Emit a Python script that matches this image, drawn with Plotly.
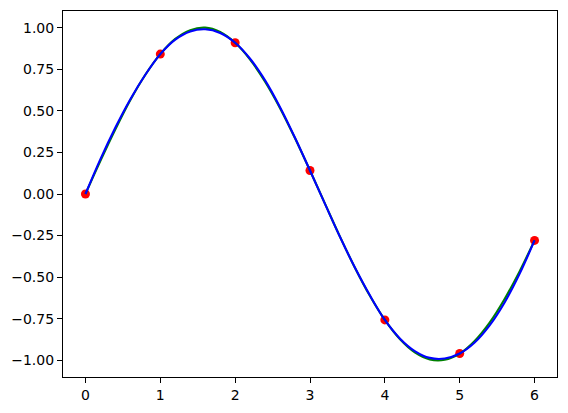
import plotly.graph_objects as go

# sample points
x_pts = [0, 1, 2, 3, 4, 5, 6]
y_pts = [0.0, 0.841, 0.909, 0.141, -0.757, -0.959, -0.279]

# dense curves
x_curve = [0.0, 0.2, 0.4, 0.6, 0.8, 1.0, 1.2, 1.4, 1.6, 1.8, 2.0, 2.2, 2.4, 2.6, 2.8, 3.0,
           3.2, 3.4, 3.6, 3.8, 4.0, 4.2, 4.4, 4.6, 4.8, 5.0, 5.2, 5.4, 5.6, 5.8, 6.0]
y_true = [0.0, 0.199, 0.389, 0.565, 0.717, 0.841, 0.932, 0.985, 1.000, 0.974, 0.909, 0.808,
          0.675, 0.516, 0.335, 0.141, -0.058, -0.256, -0.443, -0.612, -0.757, -0.872, -0.952,
          -0.994, -0.996, -0.959, -0.883, -0.773, -0.631, -0.465, -0.279]
y_spline = [0.0, 0.210, 0.400, 0.570, 0.717, 0.841, 0.928, 0.977, 0.990, 0.968, 0.909, 0.813,
            0.683, 0.522, 0.338, 0.141, -0.059, -0.257, -0.442, -0.609, -0.757, -0.868, -0.944,
            -0.985, -0.989, -0.959, -0.893, -0.790, -0.652, -0.480, -0.279]

y_ticks = [1.0, 0.75, 0.5, 0.25, 0.0, -0.25, -0.5, -0.75, -1.0]
x_ticks = [0, 1, 2, 3, 4, 5, 6]

fig = go.Figure()
fig.add_trace(go.Scatter(x=x_pts, y=y_pts, mode="markers",
                         marker=dict(color="#ff0000", size=9, line=dict(width=0)),
                         showlegend=False))
fig.add_trace(go.Scatter(x=x_curve, y=y_true, mode="lines", line_shape="spline",
                         line=dict(color="#008000", width=2.1), showlegend=False))
fig.add_trace(go.Scatter(x=x_curve, y=y_spline, mode="lines", line_shape="spline",
                         line=dict(color="#0000ff", width=2.1), showlegend=False))

axis_common = dict(showgrid=False, zeroline=False, showline=True, linecolor="black",
                   linewidth=1.1, mirror=True, ticks="outside", ticklen=5, tickwidth=1.1,
                   tickcolor="black", tickfont=dict(family="DejaVu Sans", size=14, color="black"))

fig.update_xaxes(range=[-0.3, 6.3], tickvals=x_ticks, **axis_common)
fig.update_yaxes(range=[-1.1, 1.1], tickvals=y_ticks, tickformat=".2f", **axis_common)

fig.update_layout(width=568, height=413, margin=dict(l=63, r=10, t=10, b=34),
                  plot_bgcolor="white", paper_bgcolor="white",
                  font=dict(family="DejaVu Sans"))

fig.write_html("out.html", config={"displayModeBar": False},
               post_script="document.body.style.margin='0';")
